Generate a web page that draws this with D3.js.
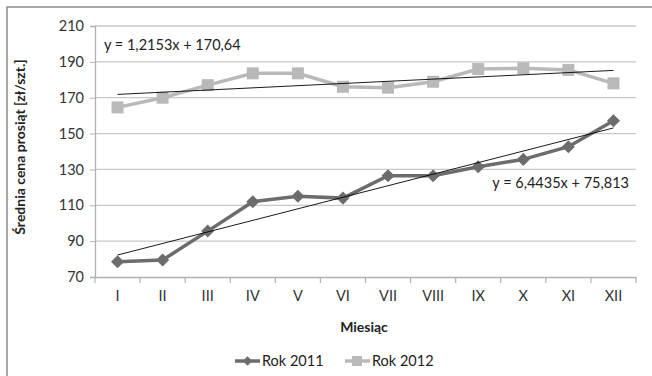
<!DOCTYPE html>
<html><head><meta charset="utf-8">
<script src="https://cdn.jsdelivr.net/npm/d3@7"></script>
<style>body{margin:0;background:#fff;}svg{display:block;font-family:Lato,"Open Sans",sans-serif;}</style>
</head><body><svg id="c" width="652" height="376"></svg>
<script>
const months = ["I","II","III","IV","V","VI","VII","VIII","IX","X","XI","XII"];
const rok2011 = [78.5,79.5,95.6,112,115,114,126.5,126.5,131.5,135.6,142.7,157.2];
const rok2012 = [164.6,170,177,183.6,183.6,176.1,175.6,178.9,186,186.4,185.5,178];
const trend2011 = {slope:6.4435, intercept:75.813, label:"y = 6,4435x + 75,813"};
const trend2012 = {slope:1.2153, intercept:170.64, label:"y = 1,2153x + 170,64"};
const yTicks = [70,90,110,130,150,170,190,210];

const svg = d3.select("#c");
svg.append("rect").attr("x",7).attr("y",7).attr("width",660).attr("height",380)
  .attr("fill","#fff").attr("stroke","#8a8a8a").attr("stroke-width",1.5);

const L=95, R=636, T=26, B=277;
const x = d3.scaleBand().domain(months).range([L,R]);
const y = d3.scaleLinear().domain([70,210]).range([B,T]);
const cx = m => x(m)+x.bandwidth()/2;
const FS = 14.5;

// gridlines
svg.append("g").selectAll("line").data(yTicks.slice(1)).join("line")
  .attr("x1",L).attr("x2",R).attr("y1",d=>y(d)).attr("y2",d=>y(d))
  .attr("stroke","#c8c8c8").attr("stroke-width",1.3);

// y axis
const ya = svg.append("g").attr("transform",`translate(${L},0)`)
  .call(d3.axisLeft(y).tickValues(yTicks).tickSize(5).tickPadding(6));
ya.select(".domain").attr("stroke","#b0b0b0").attr("stroke-width",1.3);
ya.selectAll(".tick line").attr("stroke","#b0b0b0");
ya.selectAll("text").attr("font-size",FS).attr("fill","#333").attr("font-family","Lato");

// x axis
const xa = svg.append("g").attr("transform",`translate(0,${B})`)
  .call(d3.axisBottom(x).tickSize(0).tickPadding(14));
xa.select(".domain").attr("stroke","#b0b0b0").attr("stroke-width",1.3);
xa.selectAll("text").attr("font-size",FS).attr("fill","#333").attr("font-family","Lato");
// boundary ticks
const bounds = months.map(m=>x(m)).concat([R]);
svg.append("g").selectAll("line").data(bounds).join("line")
  .attr("x1",d=>d).attr("x2",d=>d).attr("y1",B).attr("y2",B+6)
  .attr("stroke","#b0b0b0").attr("stroke-width",1.2);

// series
const line = d3.line().x((d,i)=>cx(months[i])).y(d=>y(d));
svg.append("path").datum(rok2012).attr("d",line).attr("fill","none")
  .attr("stroke","#b9b9b9").attr("stroke-width",3.5);
svg.append("g").selectAll("rect").data(rok2012).join("rect")
  .attr("x",(d,i)=>cx(months[i])-6).attr("y",d=>y(d)-6).attr("width",12).attr("height",12)
  .attr("fill","#b9b9b9");
svg.append("path").datum(rok2011).attr("d",line).attr("fill","none")
  .attr("stroke","#6c6c6c").attr("stroke-width",3.5);
svg.append("g").selectAll("path").data(rok2011).join("path")
  .attr("transform",(d,i)=>`translate(${cx(months[i])},${y(d)}) rotate(45)`)
  .attr("d",d3.symbol().type(d3.symbolSquare).size(85)).attr("fill","#6c6c6c");

// trendlines
[trend2012,trend2011].forEach(t=>{
  svg.append("line").attr("x1",cx(months[0])).attr("x2",cx(months[11]))
    .attr("y1",y(t.intercept+t.slope*1)).attr("y2",y(t.intercept+t.slope*12))
    .attr("stroke","#000").attr("stroke-width",0.9);
});
svg.append("text").attr("x",104).attr("y",50).attr("font-size",FS).attr("fill","#222").text(trend2012.label);
svg.append("text").attr("x",629).attr("y",188).attr("text-anchor","end").attr("font-size",FS).attr("fill","#222").text(trend2011.label);

// titles
svg.append("text").attr("transform","translate(25,147) rotate(-90)").attr("text-anchor","middle")
  .attr("font-size",14).attr("font-weight","bold").attr("fill","#222").text("Średnia cena prosiąt [zł/szt.]");
svg.append("text").attr("x",364).attr("y",332).attr("text-anchor","middle")
  .attr("font-size",14).attr("font-weight","bold").attr("fill","#222").text("Miesiąc");

// legend
const leg = [{name:"Rok 2011",c:"#6c6c6c",x:235,type:"d"},{name:"Rok 2012",c:"#b9b9b9",x:345,type:"s"}];
leg.forEach(l=>{
  const g = svg.append("g");
  g.append("line").attr("x1",l.x).attr("x2",l.x+25).attr("y1",361).attr("y2",361).attr("stroke",l.c).attr("stroke-width",3.5);
  if(l.type==="s") g.append("rect").attr("x",l.x+7).attr("y",356).attr("width",10).attr("height",10).attr("fill",l.c);
  else g.append("path").attr("transform",`translate(${l.x+12.5},361) rotate(45)`).attr("d",d3.symbol().type(d3.symbolSquare).size(45)).attr("fill",l.c);
  g.append("text").attr("x",l.x+27).attr("y",366).attr("font-size",FS).attr("fill","#222").text(l.name);
});
</script></body></html>
